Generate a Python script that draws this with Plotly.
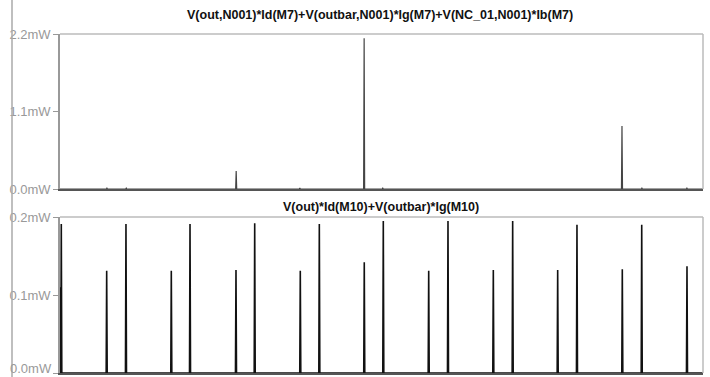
import plotly.graph_objects as go

# ---- data (time in ms, power in mW) ----
top_title = "V(out,N001)*Id(M7)+V(outbar,N001)*Ig(M7)+V(NC_01,N001)*Ib(M7)"
bot_title = "V(out)*Id(M10)+V(outbar)*Ig(M10)"

top_spike_t = [7.3, 10.3, 17.4, 27.4, 37.3, 47.3, 50.2, 57.4, 60.5, 67.3, 77.4, 87.4, 90.5, 97.5]
top_spike_p = [0.012, 0.012, 0.008, 0.255, 0.015, 2.14, 0.012, 0.01, 0.01, 0.01, 0.008, 0.894, 0.012, 0.012]

bot_spike_t = [0.2, 7.26, 10.26, 17.31, 20.22, 27.37, 30.28, 37.37, 40.33, 47.32,
               50.28, 57.34, 60.34, 67.39, 70.40, 77.40, 80.40, 87.45, 90.47, 97.51]
bot_spike_p = [0.191, 0.131, 0.191, 0.131, 0.191, 0.132, 0.192, 0.131, 0.191, 0.142,
               0.195, 0.131, 0.195, 0.132, 0.195, 0.132, 0.190, 0.133, 0.190, 0.137]
bot_start_value = 0.11

top_ticks = [0.0, 1.1, 2.2]
top_ticklabels = ["0.0mW", "1.1mW", "2.2mW"]
bot_ticks = [0.0, 0.1, 0.2]
bot_ticklabels = ["0.0mW", "0.1mW", "0.2mW"]

T_END = 100.0
HW = 0.08


def build(ts, ps, start=0.0):
    xs, ys = [0.0], [start]
    for t, p in zip(ts, ps):
        if t - HW > xs[-1]:
            xs.append(t - HW); ys.append(0.0)
        xs.append(t); ys.append(p)
        xs.append(t + HW); ys.append(0.0)
    xs.append(T_END); ys.append(0.0)
    return xs, ys


tx, ty = build(top_spike_t, top_spike_p)
bx, by = build(bot_spike_t, bot_spike_p, bot_start_value)

fig = go.Figure()
fig.add_trace(go.Scatter(x=tx, y=ty, mode="lines", line=dict(color="#444444", width=1.2),
                         xaxis="x", yaxis="y", showlegend=False, hoverinfo="skip"))
fig.add_trace(go.Scatter(x=bx, y=by, mode="lines", line=dict(color="#111111", width=1.6),
                         xaxis="x2", yaxis="y2", showlegend=False, hoverinfo="skip"))

W, H = 710, 377
xd = [60 / W, 703 / W]
top_dom = [1 - 189 / H, 1 - 34 / H]
bot_dom = [1 - 373 / H, 1 - 217 / H]

tickfont = dict(family="Liberation Sans, Arial, sans-serif", size=13, color="#999999")
common_x = dict(range=[0, T_END], showgrid=False, zeroline=False, showticklabels=False,
                ticks="", showline=True, linecolor="#555555", linewidth=1.5, fixedrange=True,
                automargin=False)
common_y = dict(showgrid=False, zeroline=False, showline=True, linecolor="#999999", linewidth=1.5,
                ticks="outside", ticklen=5, tickcolor="#999999", tickwidth=1, tickfont=tickfont,
                fixedrange=True, automargin=False)

# the lowest label sits at the page edge; it is drawn as an annotation so it stays visible
bot_axis_text = [""] + bot_ticklabels[1:]

fig.update_layout(
    width=W, height=H,
    margin=dict(l=0, r=0, t=0, b=0),
    paper_bgcolor="white", plot_bgcolor="white",
    xaxis=dict(domain=xd, anchor="y", **common_x),
    yaxis=dict(domain=top_dom, anchor="x", range=[0, 2.2], tickvals=top_ticks,
               ticktext=top_ticklabels, **common_y),
    xaxis2=dict(domain=xd, anchor="y2", **common_x),
    yaxis2=dict(domain=bot_dom, anchor="x2", range=[0, 0.2], tickvals=bot_ticks,
                ticktext=bot_axis_text, **common_y),
)

fig.add_annotation(text=bot_ticklabels[0], xref="paper", yref="paper", x=53 / W, y=0,
                   showarrow=False, font=tickfont, xanchor="right", yanchor="bottom",
                   borderpad=0)

titlefont = dict(family="Liberation Sans, Arial, sans-serif", size=12.5, color="#111111", weight="bold")
fig.add_annotation(text=top_title, xref="paper", yref="paper", x=380 / W, y=1 - 15 / H,
                   showarrow=False, font=titlefont, xanchor="center", yanchor="middle")
fig.add_annotation(text=bot_title, xref="paper", yref="paper", x=381.5 / W, y=1 - 207 / H,
                   showarrow=False, font=titlefont, xanchor="center", yanchor="middle")

# plot frames (top & right borders)
for xr, yr in (("x domain", "y domain"), ("x2 domain", "y2 domain")):
    fig.add_shape(type="line", xref=xr, yref=yr, x0=0, x1=1, y0=1, y1=1,
                  line=dict(color="#bbbbbb", width=1.5))
    fig.add_shape(type="line", xref=xr, yref=yr, x0=1, x1=1, y0=0, y1=1,
                  line=dict(color="#bbbbbb", width=1.5))

# window edge line at the left
fig.add_shape(type="line", xref="paper", yref="paper", x0=12 / W, x1=12 / W, y0=0, y1=1,
              line=dict(color="#aaaaaa", width=1.5))

fig.write_html("out.html", config={"displayModeBar": False},
               post_script="document.body.style.margin='0px';document.body.style.overflow='hidden';")
